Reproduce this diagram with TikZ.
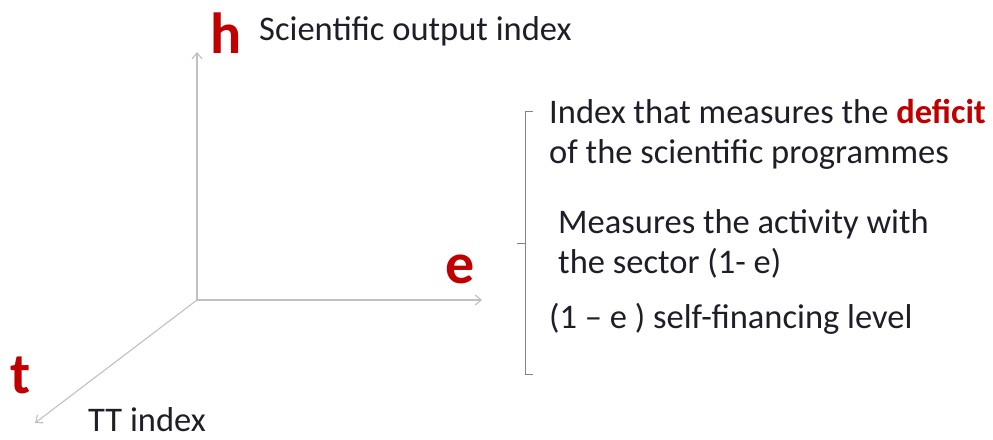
\documentclass[tikz,border=0pt]{standalone}
\usepackage{fontspec}
\setmainfont{Carlito}
\usepackage{tikz}
\usetikzlibrary{positioning,arrows.meta,calc}
\definecolor{axred}{RGB}{192,0,0}
\definecolor{axgray}{RGB}{190,192,196}
\definecolor{brgray}{RGB}{130,130,130}
\definecolor{txdark}{RGB}{30,30,40}

\begin{document}
\begin{tikzpicture}[x=1pt, y=-1pt,
  axis/.style={axgray, line width=1.1pt, -{Straight Barb[length=6pt,width=10pt]}},
  axlbl/.style={font=\fontsize{58}{58}\selectfont\bfseries, text=axred, inner sep=0pt, anchor=base west},
  desc/.style={font=\fontsize{34.5}{40}\selectfont, text=txdark, inner sep=0pt, anchor=base west, align=left}]
\useasboundingbox (0,0) rectangle (993,439);

% ================= axes =================
\coordinate (o) at (197,300);
\coordinate (hend) at (197,52);
\coordinate (eend) at (482,300);
\coordinate (tend) at (35,423);
\draw[axis] (o) -- (hend);
\draw[axis] (o) -- (eend);
\draw[axis] (o) -- (tend);

% axis letters and names
\node[axlbl] (hlbl) at (210,53) {h};
\node[axlbl] (elbl) at (445,283) {e};
\node[axlbl] (tlbl) at (10,393) {t};
\node[desc] (hname) at (259,40) {Scientific output index};
\node[desc] (tname) at (88,431) {TT index};

% ================= bracket =================
\coordinate (btop) at (525,111);
\coordinate (bbot) at (525,374);
\coordinate (bmid) at (525,243);
\draw[brgray, line width=0.9pt] ($(btop)+(8,0)$) -- (btop) -- (bbot) -- ++(8,0);
\draw[brgray, line width=0.9pt] (bmid) -- ++(-8,0);

% ================= notes =================
% anchors sit on the baseline of the last line
\node[desc] (deficit) at (549,163)
  {Index that measures the \textbf{\color{axred}deficit}\\of the scientific programmes};
\node[desc] (activity) at (558,273) {Measures the activity with\\the sector (1- e)};
\node[desc] (selffin) at (549,328) {(1 -- e ) self-financing level};
\end{tikzpicture}
\end{document}
